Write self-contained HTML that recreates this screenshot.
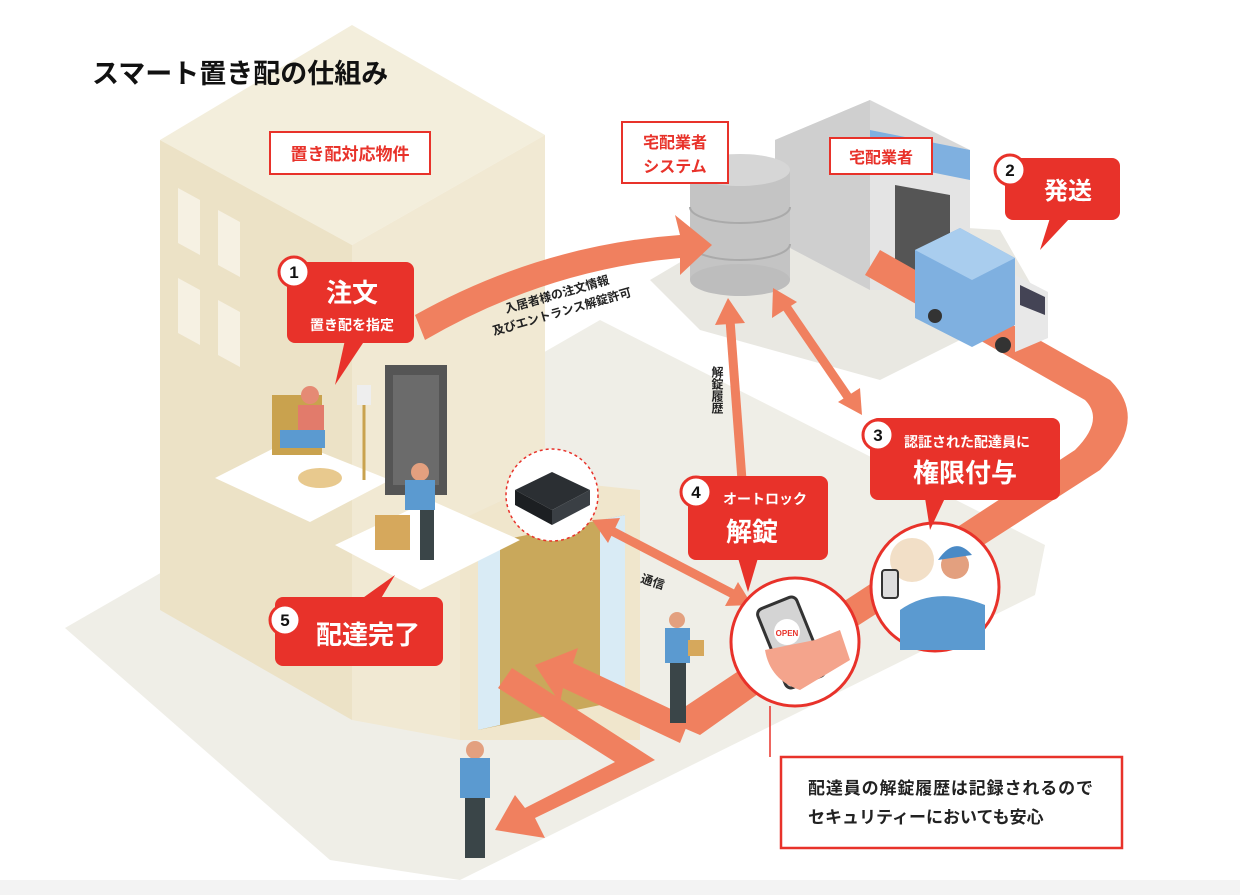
<!DOCTYPE html>
<html><head><meta charset="utf-8"><style>
html,body{margin:0;padding:0;background:#fff}
svg{display:block}
text{font-family:"Liberation Sans","Noto Sans CJK JP",sans-serif;font-weight:bold}
</style></head><body>
<svg width="1240" height="895" viewBox="0 0 1240 895" xmlns="http://www.w3.org/2000/svg">
<rect width="1240" height="895" fill="#fff"/>
<rect y="880" width="1240" height="15" fill="#f3f3f3"/>
<!-- ground -->
<polygon points="65,628 600,320 1045,545 1035,595 460,880 330,860" fill="#efeee7"/>
<polygon points="650,280 760,215 1000,230 1040,300 880,380 700,330" fill="#e9e8e2"/>
<!-- building -->
<polygon points="352,25 545,135 352,245 160,140" fill="#f3eedc"/>
<polygon points="160,140 352,245 352,720 160,610" fill="#ece2c6"/>
<polygon points="352,245 545,135 545,480 460,520 460,740 352,720" fill="#f1e9d3"/>
<g fill="#f6f1e3">
<polygon points="178,188 200,200 200,255 178,243"/><polygon points="218,210 240,222 240,277 218,265"/>
<polygon points="178,278 200,290 200,345 178,333"/><polygon points="218,300 240,312 240,367 218,355"/>
</g>
<!-- entrance block -->
<polygon points="460,520 545,480 640,490 640,740 460,740" fill="#f0e6cc"/>
<polygon points="478,545 625,515 625,700 478,730" fill="#c9a85b"/>
<polygon points="478,545 500,540 500,725 478,730" fill="#d9ebf5"/>
<polygon points="600,520 625,515 625,700 600,705" fill="#d9ebf5"/>
<!-- balconies -->
<polygon points="215,478 290,440 390,480 310,522" fill="#fff"/>
<polygon points="335,545 430,500 520,540 420,590" fill="#fff"/>
<rect x="385" y="365" width="62" height="130" fill="#555"/>
<rect x="393" y="375" width="46" height="110" fill="#6b6b6b"/>
<!-- resident -->
<rect x="272" y="395" width="50" height="60" fill="#c9a24e"/>
<circle cx="310" cy="395" r="9" fill="#e58a74"/>
<rect x="298" y="405" width="26" height="30" fill="#e27b6b"/>
<rect x="280" y="430" width="45" height="18" fill="#5b9ad0"/>
<rect x="357" y="385" width="14" height="20" fill="#eee"/><line x1="364" y1="405" x2="364" y2="480" stroke="#c9a24e" stroke-width="3"/>
<ellipse cx="320" cy="478" rx="22" ry="10" fill="#e8c98e"/>
<!-- worker at balcony -->
<circle cx="420" cy="472" r="9" fill="#e3a07f"/>
<rect x="405" y="480" width="30" height="30" fill="#5b9ad0"/>
<rect x="420" y="510" width="14" height="50" fill="#3a4548"/>
<rect x="375" y="515" width="35" height="35" fill="#d6a85c"/>
<!-- router -->
<circle cx="552" cy="495" r="46" fill="#fff" stroke="#e8322a" stroke-width="1.5" stroke-dasharray="3,3"/>
<polygon points="515,490 552,472 590,490 552,510" fill="#2b2f33"/>
<polygon points="515,490 552,510 552,525 515,505" fill="#1c1f22"/>
<polygon points="552,510 590,490 590,505 552,525" fill="#3a3f44"/>
<!-- warehouse -->
<polygon points="775,140 870,100 970,150 970,290 870,290 775,240" fill="#d8d8d8"/>
<polygon points="870,130 970,150 970,290 870,290" fill="#e4e4e4"/>
<polygon points="870,130 970,150 970,180 870,160" fill="#7fb0e0"/>
<polygon points="895,185 950,195 950,290 895,290" fill="#555"/>
<polygon points="775,140 870,100 870,290 775,240" fill="#cfcfcf"/>
<!-- database -->
<rect x="690" y="170" width="100" height="110" fill="#c4c4c4"/>
<ellipse cx="740" cy="280" rx="50" ry="16" fill="#bdbdbd"/>
<ellipse cx="740" cy="170" rx="50" ry="16" fill="#d6d6d6"/>
<path d="M690 207 a50 16 0 0 0 100 0 M690 244 a50 16 0 0 0 100 0" stroke="#aaa" fill="none" stroke-width="2"/>
<!-- orange paths -->
<g fill="#f0805f" stroke="none">
<path d="M415 315 Q540 245 680 235 L675 215 L712 245 L680 275 L680 258 Q545 270 425 340 Z"/>
<path d="M880 250 L1110 380 Q1150 420 1100 470 L820 650 L700 735 L665 720 L800 630 L1075 450 Q1105 420 1085 400 L865 275 Z"/>
<polygon points="535,665 578,648 573,663 690,718 680,743 563,688 560,703"/>
<polygon points="498,688 512,668 655,760 535,818 545,838 495,830 515,795 525,808 615,762"/>
</g>
<!-- thin arrows -->
<g stroke="#f0805f" stroke-width="9" fill="none">
<line x1="742" y1="480" x2="730" y2="320"/>
<line x1="785" y1="305" x2="850" y2="400"/>
<line x1="610" y1="530" x2="735" y2="595"/>
</g>
<g fill="#f0805f">
<polygon points="728,298 715,325 745,323"/>
<polygon points="773,288 772,318 797,302"/>
<polygon points="862,415 838,402 860,388"/>
<polygon points="592,520 620,518 608,543"/>
<polygon points="752,605 725,606 738,582"/>
</g>
<!-- truck -->
<polygon points="915,250 960,228 1015,258 1015,325 972,347 915,318" fill="#7fb0e0"/>
<polygon points="960,228 1015,258 972,280 915,250" fill="#a9cdee"/>
<polygon points="1015,275 1048,292 1048,338 1015,352" fill="#e8e8e8"/>
<polygon points="1020,285 1045,297 1045,315 1020,305" fill="#445"/>
<circle cx="1003" cy="345" r="8" fill="#333"/><circle cx="935" cy="316" r="7" fill="#333"/>
<!-- walking workers -->
<g>
<circle cx="677" cy="620" r="8" fill="#e3a07f"/><rect x="665" y="628" width="25" height="35" fill="#5b9ad0"/>
<rect x="670" y="663" width="16" height="60" fill="#3a4548"/><rect x="688" y="640" width="16" height="16" fill="#d6a85c"/>
<circle cx="475" cy="750" r="9" fill="#e3a07f"/><rect x="460" y="758" width="30" height="40" fill="#5b9ad0"/>
<rect x="465" y="798" width="20" height="60" fill="#3a4548"/>
</g>
<!-- circle images -->
<circle cx="795" cy="642" r="64" fill="#fff" stroke="#e8322a" stroke-width="3"/>
<rect x="770" y="600" width="42" height="85" rx="6" fill="#d4d4d4" stroke="#333" stroke-width="3" transform="rotate(-22 791 642)"/>
<circle cx="787" cy="632" r="13" fill="#fff"/><text x="787" y="636" font-size="8" fill="#e8322a" text-anchor="middle">OPEN</text>
<path d="M765 650 Q770 680 800 690 L850 660 L840 630 L815 640 Z" fill="#f4a48c"/>
<circle cx="935" cy="587" r="64" fill="#fff" stroke="#e8322a" stroke-width="3"/>
<circle cx="912" cy="560" r="22" fill="#f2dfc7"/>
<path d="M900 650 L900 610 Q935 585 985 605 L985 650 Z" fill="#5b9ad0"/>
<circle cx="955" cy="565" r="14" fill="#e3a07f"/><path d="M938 560 Q955 535 972 555 Z" fill="#4a8ac6"/>
<rect x="882" y="570" width="16" height="28" rx="3" fill="#ddd" stroke="#333" stroke-width="2"/>
<!-- connector & info box -->
<line x1="770" y1="706" x2="770" y2="757" stroke="#e8322a" stroke-width="1.5"/>
<rect x="781" y="757" width="341" height="91" fill="#fff" stroke="#e8322a" stroke-width="2.5"/>
<text x="808" y="794" font-size="17" fill="#222" textLength="285">配達員の解錠履歴は記録されるので</text>
<text x="808" y="823" font-size="17" fill="#222">セキュリティーにおいても安心</text>
<!-- title -->
<text x="92" y="83" font-size="27" fill="#111">スマート置き配の仕組み</text>
<!-- label boxes -->
<rect x="270" y="132" width="160" height="42" fill="#fff" stroke="#e8322a" stroke-width="2"/>
<text x="350" y="160" font-size="17" fill="#e8322a" text-anchor="middle">置き配対応物件</text>
<rect x="622" y="122" width="106" height="61" fill="#fff" stroke="#e8322a" stroke-width="2"/>
<text x="675" y="148" font-size="16" fill="#e8322a" text-anchor="middle">宅配業者</text>
<text x="675" y="172" font-size="16" fill="#e8322a" text-anchor="middle">システム</text>
<rect x="830" y="138" width="102" height="36" fill="#fff" stroke="#e8322a" stroke-width="2"/>
<text x="881" y="163" font-size="16" fill="#e8322a" text-anchor="middle">宅配業者</text>
<!-- small labels -->
<g transform="rotate(-16 560 305)"><text x="560" y="298" font-size="12" fill="#222" text-anchor="middle">入居者様の注文情報</text>
<text x="560" y="316" font-size="12" fill="#222" text-anchor="middle">及びエントランス解錠許可</text></g>
<text font-size="12" fill="#222" style="writing-mode:vertical-rl" x="717" y="366">解錠履歴</text>
<text x="640" y="582" font-size="12" fill="#222" transform="rotate(18 640 582)">通信</text>
<!-- bubbles -->
<g fill="#e8322a">
<rect x="287" y="262" width="127" height="81" rx="8"/><polygon points="345,340 365,340 335,385"/>
<rect x="1005" y="158" width="115" height="62" rx="8"/><polygon points="1050,218 1070,218 1040,250"/>
<rect x="870" y="418" width="190" height="82" rx="8"/><polygon points="925,498 945,498 930,530"/>
<rect x="688" y="476" width="140" height="84" rx="8"/><polygon points="738,558 758,558 748,592"/>
<rect x="275" y="597" width="168" height="69" rx="8"/><polygon points="360,600 380,600 395,575"/>
</g>
<g fill="#fff" stroke="#e8322a" stroke-width="3">
<circle cx="294" cy="272" r="15"/><circle cx="1010" cy="170" r="15"/><circle cx="878" cy="435" r="15"/>
<circle cx="696" cy="492" r="15"/><circle cx="285" cy="620" r="15"/>
</g>
<g fill="#111" font-size="17" text-anchor="middle">
<text x="294" y="278">1</text><text x="1010" y="176">2</text><text x="878" y="441">3</text><text x="696" y="498">4</text><text x="285" y="626">5</text>
</g>
<g fill="#fff" text-anchor="middle">
<text x="352" y="302" font-size="26">注文</text>
<text x="352" y="330" font-size="14">置き配を指定</text>
<text x="1068" y="199" font-size="24">発送</text>
<text x="967" y="447" font-size="14">認証された配達員に</text>
<text x="965" y="482" font-size="26">権限付与</text>
<text x="765" y="504" font-size="14">オートロック</text>
<text x="752" y="541" font-size="26">解錠</text>
<text x="368" y="644" font-size="26">配達完了</text>
</g>
</svg>
</body></html>
